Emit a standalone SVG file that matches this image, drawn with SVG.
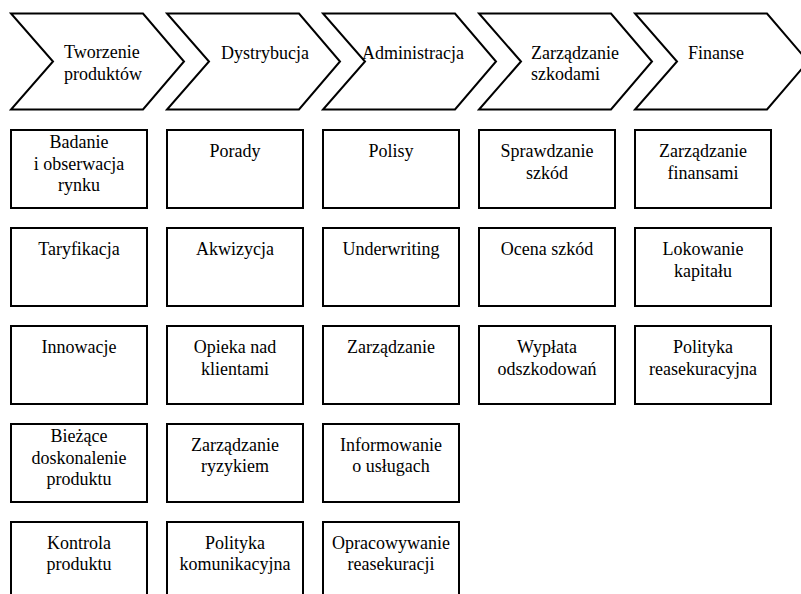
<svg xmlns="http://www.w3.org/2000/svg" width="801" height="594" viewBox="0 0 801 594">
<style>
.sh{fill:#fff;stroke:#000;stroke-width:2;stroke-linejoin:miter}
text{font-family:'Liberation Serif','Times New Roman','DejaVu Serif',serif;font-size:18px;fill:#000}
.c{text-anchor:middle}
</style>
<rect width="801" height="594" fill="#fff"/>
<g id="stages" font-family="Liberation Serif">
<g id="s1"><polygon class="sh" points="11,13.5 143,13.5 184,61.5 143,109.5 11,109.5 53,61.5"/><text x="64" y="58">Tworzenie</text><text x="64" y="79.5">produktów</text></g>
<g id="s2"><polygon class="sh" points="167,13.5 299,13.5 340,61.5 299,109.5 167,109.5 209,61.5"/><text x="221" y="58.5">Dystrybucja</text></g>
<g id="s3"><polygon class="sh" points="323,13.5 455,13.5 496,61.5 455,109.5 323,109.5 365,61.5"/><text x="362" y="58.5">Administracja</text></g>
<g id="s4"><polygon class="sh" points="479,13.5 611,13.5 652,61.5 611,109.5 479,109.5 521,61.5"/><text x="531" y="58.5">Zarządzanie</text><text x="531" y="80">szkodami</text></g>
<g id="s5"><polygon class="sh" points="635,13.5 767,13.5 808,61.5 767,109.5 635,109.5 677,61.5"/><text x="688" y="58.5">Finanse</text></g>
</g>
<g id="col1">
<g id="b11"><rect class="sh" x="11" y="130" width="136" height="78"/><text class="c" x="79" y="148">Badanie</text><text class="c" x="79" y="169.5">i obserwacja</text><text class="c" x="79" y="191">rynku</text></g>
<g id="b12"><rect class="sh" x="11" y="228" width="136" height="78"/><text class="c" x="79" y="255">Taryfikacja</text></g>
<g id="b13"><rect class="sh" x="11" y="326" width="136" height="78"/><text class="c" x="79" y="353">Innowacje</text></g>
<g id="b14"><rect class="sh" x="11" y="424" width="136" height="78"/><text class="c" x="79" y="442">Bieżące</text><text class="c" x="79" y="463.5">doskonalenie</text><text class="c" x="79" y="485">produktu</text></g>
<g id="b15"><rect class="sh" x="11" y="522" width="136" height="78"/><text class="c" x="79" y="548.5">Kontrola</text><text class="c" x="79" y="570">produktu</text></g>
</g>
<g id="col2">
<g id="b21"><rect class="sh" x="167" y="130" width="136" height="78"/><text class="c" x="235" y="157">Porady</text></g>
<g id="b22"><rect class="sh" x="167" y="228" width="136" height="78"/><text class="c" x="235" y="255">Akwizycja</text></g>
<g id="b23"><rect class="sh" x="167" y="326" width="136" height="78"/><text class="c" x="235" y="353">Opieka nad</text><text class="c" x="235" y="374.5">klientami</text></g>
<g id="b24"><rect class="sh" x="167" y="424" width="136" height="78"/><text class="c" x="235" y="450.5">Zarządzanie</text><text class="c" x="235" y="472">ryzykiem</text></g>
<g id="b25"><rect class="sh" x="167" y="522" width="136" height="78"/><text class="c" x="235" y="548.5">Polityka</text><text class="c" x="235" y="570">komunikacyjna</text></g>
</g>
<g id="col3">
<g id="b31"><rect class="sh" x="323" y="130" width="136" height="78"/><text class="c" x="391" y="157">Polisy</text></g>
<g id="b32"><rect class="sh" x="323" y="228" width="136" height="78"/><text class="c" x="391" y="255">Underwriting</text></g>
<g id="b33"><rect class="sh" x="323" y="326" width="136" height="78"/><text class="c" x="391" y="353">Zarządzanie</text></g>
<g id="b34"><rect class="sh" x="323" y="424" width="136" height="78"/><text class="c" x="391" y="450.5">Informowanie</text><text class="c" x="391" y="472">o usługach</text></g>
<g id="b35"><rect class="sh" x="323" y="522" width="136" height="78"/><text class="c" x="391" y="548.5">Opracowywanie</text><text class="c" x="391" y="570">reasekuracji</text></g>
</g>
<g id="col4">
<g id="b41"><rect class="sh" x="479" y="130" width="136" height="78"/><text class="c" x="547" y="157">Sprawdzanie</text><text class="c" x="547" y="178.5">szkód</text></g>
<g id="b42"><rect class="sh" x="479" y="228" width="136" height="78"/><text class="c" x="547" y="255">Ocena szkód</text></g>
<g id="b43"><rect class="sh" x="479" y="326" width="136" height="78"/><text class="c" x="547" y="353">Wypłata</text><text class="c" x="547" y="374.5">odszkodowań</text></g>
</g>
<g id="col5">
<g id="b51"><rect class="sh" x="635" y="130" width="136" height="78"/><text class="c" x="703" y="157">Zarządzanie</text><text class="c" x="703" y="178.5">finansami</text></g>
<g id="b52"><rect class="sh" x="635" y="228" width="136" height="78"/><text class="c" x="703" y="255">Lokowanie</text><text class="c" x="703" y="276.5">kapitału</text></g>
<g id="b53"><rect class="sh" x="635" y="326" width="136" height="78"/><text class="c" x="703" y="353">Polityka</text><text class="c" x="703" y="374.5">reasekuracyjna</text></g>
</g>
<g id="connectors"/>
</svg>
